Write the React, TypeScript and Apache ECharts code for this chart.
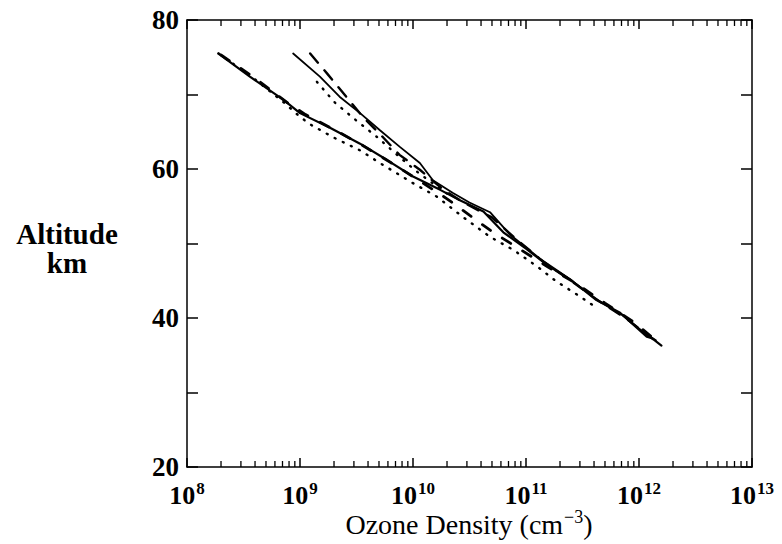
import React, { useEffect, useRef } from "react";
import * as echarts from "echarts";

// Altitude (km) / ozone density (cm^-3) profiles
const solidA: [number, number][] = [
  [1.9e8, 75.5], [3.6e8, 72.4], [7.1e8, 69.3], [1.0e9, 67.5], [1.86e9, 65.5],
  [3.4e9, 63.4], [5.9e9, 61.2], [1.0e10, 59.0], [1.74e10, 57.2], [2.6e10, 55.8],
  [4.2e10, 54.3], [6.3e10, 51.5], [1.0e11, 49.3], [1.58e11, 47.0], [2.5e11, 45.1],
  [4.2e11, 42.4], [6.8e11, 40.7], [1.17e12, 37.5], [1.3e12, 37.3], [1.58e12, 36.3],
];
const solidB: [number, number][] = [
  [8.7e8, 75.5], [1.5e9, 72.4], [2.24e9, 69.7], [3.4e9, 67.5], [5.1e9, 65.2],
  [7.6e9, 63.0], [1.15e10, 60.8], [1.5e10, 58.5], [2.24e10, 56.8], [3.16e10, 55.5],
  [4.8e10, 54.2], [7.2e10, 51.2], [1.32e11, 48.0], [2.3e11, 45.5], [4.2e11, 42.5],
  [7.1e11, 40.4], [1.12e12, 38.0], [1.41e12, 37.0],
];
const dashedB: [number, number][] = [
  [1.23e9, 75.5], [1.74e9, 72.8], [2.57e9, 69.7], [3.6e9, 67.0], [5.4e9, 64.3],
  [7.6e9, 61.9], [1.15e10, 59.9], [1.86e10, 57.2], [2.8e10, 55.5], [5.0e10, 53.5],
  [7.9e10, 50.8], [1.41e11, 47.6], [2.5e11, 45.0], [4.5e11, 42.2], [7.9e11, 39.8],
  [1.32e12, 37.2],
];
const dashedA: [number, number][] = [
  [2.0e8, 75.3], [4.0e8, 72.2], [7.9e8, 68.8], [1.12e9, 67.3], [2.0e9, 65.3],
  [3.55e9, 63.2], [6.3e9, 60.9], [1.12e10, 58.5], [2.0e10, 56.0], [3.16e10, 53.8],
  [5.0e10, 51.6], [8.9e10, 49.2], [1.58e11, 46.8], [2.8e11, 44.6], [5.0e11, 42.0],
  [8.9e11, 39.5], [1.41e12, 37.0],
];
const dottedA: [number, number][] = [
  [1.9e8, 75.5], [3.8e8, 72.3], [7.1e8, 69.0], [1.0e9, 67.0], [1.26e9, 65.9],
  [2.0e9, 64.2], [3.4e9, 62.5], [5.1e9, 60.8], [1.0e10, 58.1], [1.62e10, 56.3],
  [2.8e10, 53.5], [4.8e10, 50.9], [7.8e10, 49.1], [1.26e11, 46.9], [1.86e11, 44.9],
  [3.0e11, 42.9], [4.1e11, 41.5],
];
const dottedB: [number, number][] = [
  [1.41e9, 71.7], [2.04e9, 68.9], [3.1e9, 66.6], [4.8e9, 64.3], [7.1e9, 62.0],
  [1.05e10, 59.8], [1.58e10, 57.8], [2.24e10, 56.2],
];

const decades = [1e8, 1e9, 1e10, 1e11, 1e12];
const minorMultipliers = [2, 3, 4, 5, 6, 7, 8, 9];
const yTickLabels = [20, 40, 60, 80];

const FONT = "'Liberation Serif', 'DejaVu Serif', serif";

export default function App() {
  const ref = useRef<HTMLDivElement>(null);
  useEffect(() => {
    document.body.style.margin = "0";
    if (!ref.current) return;
    const chart = echarts.init(ref.current, null, { renderer: "svg" });
    const minorTicks: number[][] = [];
    decades.forEach((d) => minorMultipliers.forEach((m) => minorTicks.push([d * m, 20])));

    const line = (data: [number, number][], type: any, width: number) => ({
      type: "line",
      data,
      showSymbol: false,
      symbol: "none",
      xAxisIndex: 0,
      yAxisIndex: 0,
      lineStyle: { color: "#000", width, type, cap: "round" },
      z: 3,
    });

    const axisCommon = {
      axisLine: { show: true, lineStyle: { color: "#000", width: 1.5 } },
      splitLine: { show: false },
    };

    chart.setOption({
      animation: false,
      backgroundColor: "#fff",
      grid: { left: 187, top: 20, width: 565, height: 447 },
      xAxis: [
        {
          type: "log",
          logBase: 10,
          min: 1e8,
          max: 1e13,
          splitNumber: 5,
          position: "bottom",
          ...axisCommon,
          axisTick: { show: true, inside: true, length: 9, lineStyle: { color: "#000", width: 1.5 } },
          axisLabel: {
            margin: 13,
            formatter: (v: number) => `{a|10}{s|${Math.round(Math.log10(v))}}`,
            rich: {
              a: { fontSize: 26, fontWeight: "bold", fontFamily: FONT, color: "#000" },
              s: { fontSize: 17, fontWeight: "bold", fontFamily: FONT, color: "#000", padding: [0, 0, 14, 1] },
            },
          },
        },
        {
          type: "log",
          logBase: 10,
          min: 1e8,
          max: 1e13,
          splitNumber: 5,
          position: "top",
          ...axisCommon,
          axisTick: { show: true, inside: true, length: 9, lineStyle: { color: "#000", width: 1.5 } },
          axisLabel: { show: false },
        },
      ],
      yAxis: [
        {
          type: "value",
          min: 20,
          max: 80,
          interval: 10,
          position: "left",
          ...axisCommon,
          axisTick: { show: true, inside: true, length: 11, lineStyle: { color: "#000", width: 1.5 } },
          axisLabel: {
            margin: 8,
            fontSize: 27,
            fontWeight: "bold",
            fontFamily: FONT,
            color: "#000",
            formatter: (v: number) => (yTickLabels.includes(v) ? String(v) : ""),
          },
        },
        {
          type: "value",
          min: 20,
          max: 80,
          interval: 10,
          position: "right",
          ...axisCommon,
          axisTick: { show: true, inside: true, length: 11, lineStyle: { color: "#000", width: 1.5 } },
          axisLabel: { show: false },
        },
      ],
      graphic: [
        {
          type: "text",
          x: 67,
          y: 234,
          style: {
            text: "Altitude",
            font: `bold 29px ${FONT}`,
            fill: "#000",
            align: "center",
            verticalAlign: "middle",
          },
        },
        {
          type: "text",
          x: 67,
          y: 263,
          style: {
            text: "km",
            font: `bold 29px ${FONT}`,
            fill: "#000",
            align: "center",
            verticalAlign: "middle",
          },
        },
        {
          type: "text",
          x: 469,
          y: 524,
          style: {
            text: "{t|Ozone Density (cm}{s|−3}{t|)}",
            align: "center",
            verticalAlign: "middle",
            rich: {
              t: { fontSize: 28, fontFamily: FONT, color: "#000" },
              s: { fontSize: 18, fontFamily: FONT, color: "#000", padding: [0, 0, 14, 1] },
            },
          },
        },
      ],
      series: [
        line(solidA, "solid", 2.2),
        line(solidB, "solid", 1.8),
        line(dashedB, [12, 10], 2.4),
        line(dashedA, [10, 14], 2.8),
        line(dottedA, [1, 8], 2.4),
        line(dottedB, [1, 8], 2.4),
        {
          type: "custom",
          xAxisIndex: 0,
          yAxisIndex: 0,
          data: minorTicks,
          clip: false,
          silent: true,
          renderItem: (params: any, api: any) => {
            const v = api.value(0);
            const b = api.coord([v, 20]);
            const t = api.coord([v, 80]);
            const st = { stroke: "#000", lineWidth: 1.3 };
            return {
              type: "group",
              children: [
                { type: "line", shape: { x1: b[0], y1: b[1], x2: b[0], y2: b[1] - 6 }, style: st },
                { type: "line", shape: { x1: t[0], y1: t[1], x2: t[0], y2: t[1] + 6 }, style: st },
              ],
            };
          },
          z: 4,
        },
      ],
    });
    return () => chart.dispose();
  }, []);
  return <div ref={ref} style={{ width: 782, height: 544 }} />;
}
